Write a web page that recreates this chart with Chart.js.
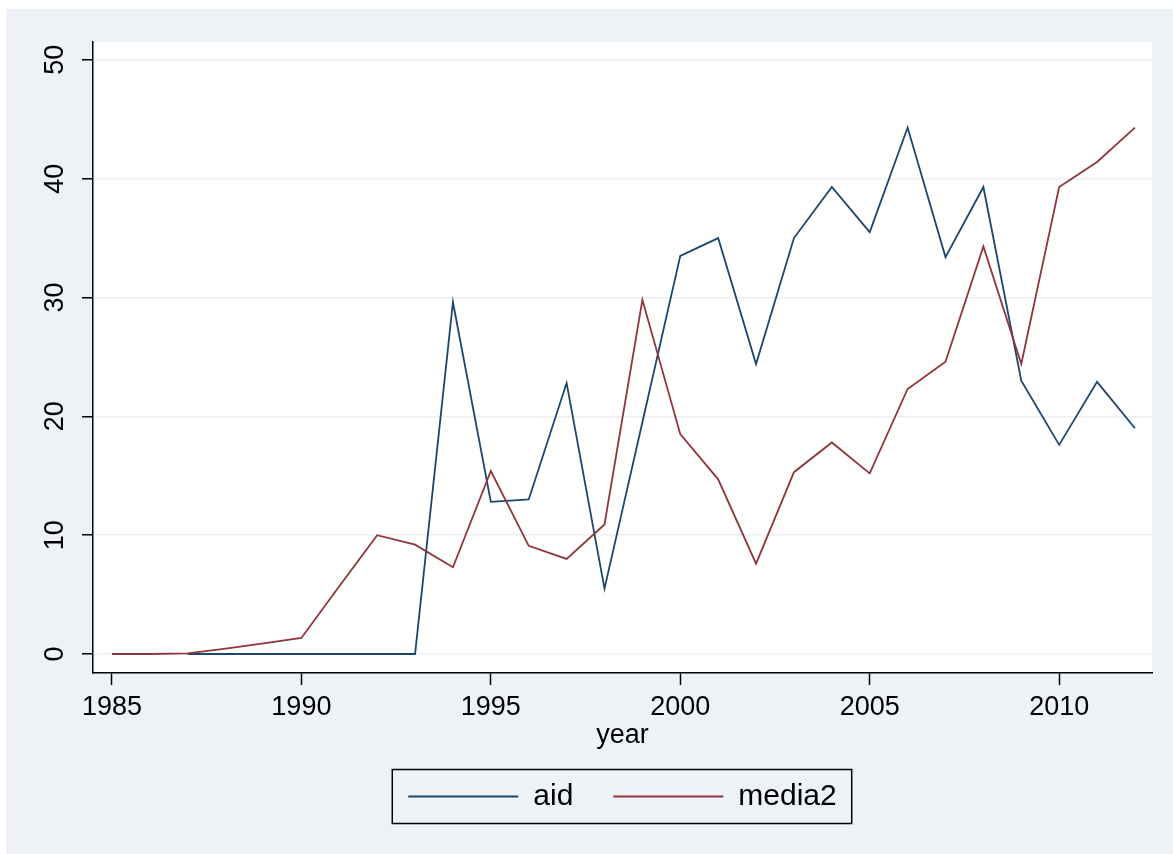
<!DOCTYPE html>
<html>
<head>
<meta charset="utf-8">
<script src="https://cdn.jsdelivr.net/npm/chart.js"></script>
<style>
    html, body { margin: 0; padding: 0; background: #fff; }
    canvas { display: block; }
</style>
</head>
<body>
<canvas id="lineChart" width="1173" height="854"></canvas>
<script>
// data
var years = [1985, 1986, 1987, 1988, 1989, 1990, 1991, 1992, 1993, 1994,
             1995, 1996, 1997, 1998, 1999, 2000, 2001, 2002, 2003, 2004,
             2005, 2006, 2007, 2008, 2009, 2010, 2011, 2012];
var aid = [null, null, 0, 0, 0, 0, 0, 0, 0, 29.6,
           12.8, 13.0, 22.8, 5.5, 19.5, 33.5, 35.0, 24.4, 35.0, 39.3,
           35.5, 44.3, 33.4, 39.3, 23.0, 17.6, 22.9, 19.0];
var media2 = [0, 0, 0.05, 0.45, 0.9, 1.35, 5.7, 10.0, 9.2, 7.3,
              15.4, 9.1, 8.0, 10.9, 29.8, 18.5, 14.7, 7.6, 15.3, 17.8,
              15.2, 22.3, 24.6, 34.3, 24.4, 39.3, 41.4, 44.3];
var xTicks = [1985, 1990, 1995, 2000, 2005, 2010];
var yTicks = [0, 10, 20, 30, 40, 50];

var seriesNames = ["aid", "media2"];
var seriesColors = ["#1a476f", "#90353b"];

Chart.defaults.font.family = "'Liberation Sans', Arial, sans-serif";
Chart.defaults.color = "#000";

function toPoints(values) {
    var pts = [];
    for (var i = 0; i < years.length; ++i) {
        if (values[i] !== null) {
            pts.push({ x: years[i], y: values[i] });
        }
    }
    return pts;
}

// grey graph region + white plot region, like stata's s2color
var backdrop = {
    id: "backdrop",
    beforeDraw: function (chart) {
        var ctx = chart.ctx;
        var a = chart.chartArea;
        ctx.save();
        ctx.fillStyle = "#ffffff";
        ctx.fillRect(0, 0, chart.width, chart.height);
        ctx.fillStyle = "#eef2f7";
        ctx.fillRect(6, 9, chart.width - 6, chart.height - 9);
        ctx.fillStyle = "#ffffff";
        ctx.fillRect(a.left, a.top, a.right - a.left, a.bottom - a.top);
        ctx.restore();
    }
};

// black frame round the legend
var legendFrame = {
    id: "legendFrame",
    afterDraw: function (chart) {
        var boxes = chart.legend.legendHitBoxes;
        if (!boxes || !boxes.length) return;
        var first = boxes[0];
        var last = boxes[boxes.length - 1];
        var cy = first.top + first.height / 2;
        var left = first.left - 16;
        var right = last.left + last.width + 15;
        var ctx = chart.ctx;
        ctx.save();
        ctx.strokeStyle = "#000";
        ctx.lineWidth = 1.5;
        ctx.strokeRect(left, cy - 27, right - left, 54);
        ctx.restore();
    }
};

new Chart("lineChart", {
    type: "line",
    data: {
        datasets: [{
            label: seriesNames[0],
            data: toPoints(aid),
            borderColor: seriesColors[0],
            backgroundColor: seriesColors[0],
            borderWidth: 1.8,
            pointRadius: 0,
            tension: 0,
            order: 2
        }, {
            label: seriesNames[1],
            data: toPoints(media2),
            borderColor: seriesColors[1],
            backgroundColor: seriesColors[1],
            borderWidth: 1.8,
            pointRadius: 0,
            tension: 0,
            order: 1
        }]
    },
    options: {
        responsive: false,
        animation: false,
        devicePixelRatio: 1,
        layout: {
            padding: { left: 6, right: 21, top: 42, bottom: 32.5 }
        },
        plugins: {
            tooltip: { enabled: false },
            legend: {
                position: "bottom",
                fullSize: false,
                labels: {
                    color: "#000",
                    font: { size: 30 },
                    boxWidth: 110,
                    boxHeight: 2,
                    padding: 40,
                    generateLabels: function (chart) {
                        return chart.data.datasets.map(function (ds, i) {
                            return {
                                text: ds.label,
                                fillStyle: ds.borderColor,
                                strokeStyle: ds.borderColor,
                                lineWidth: 0,
                                hidden: false,
                                datasetIndex: i
                            };
                        }).sort(function (a, b) { return a.datasetIndex - b.datasetIndex; });
                    }
                }
            }
        },
        scales: {
            x: {
                type: "linear",
                min: 1984.5,
                max: 2012.45,
                afterBuildTicks: function (scale) {
                    scale.ticks = xTicks.map(function (v) { return { value: v }; });
                },
                afterFit: function (scale) {
                    scale.height = 68.5;
                },
                grid: {
                    drawOnChartArea: false,
                    tickLength: 12,
                    tickColor: "#000",
                    tickWidth: 1.5
                },
                border: { color: "#000", width: 1.5 },
                ticks: {
                    color: "#000",
                    font: { size: 27 },
                    padding: 6,
                    maxRotation: 0,
                    autoSkip: false,
                    callback: function (v) { return String(v); }
                },
                title: {
                    display: true,
                    text: "year",
                    color: "#000",
                    font: { size: 27 },
                    padding: { top: 0, bottom: -10.4 }
                }
            },
            y: {
                min: -1.6,
                max: 51.5,
                afterBuildTicks: function (scale) {
                    scale.ticks = yTicks.map(function (v) { return { value: v }; });
                },
                afterFit: function (scale) {
                    scale.width = 87;
                },
                grid: {
                    color: "#ebf0f5",
                    lineWidth: 1.5,
                    tickLength: 11,
                    tickColor: "#000",
                    tickWidth: 1.5
                },
                border: { color: "#000", width: 1.5 },
                ticks: {
                    color: "#000",
                    font: { size: 27 },
                    minRotation: 90,
                    maxRotation: 90,
                    crossAlign: "center",
                    padding: 11
                }
            }
        }
    },
    plugins: [backdrop, legendFrame]
});
</script>
</body>
</html>
